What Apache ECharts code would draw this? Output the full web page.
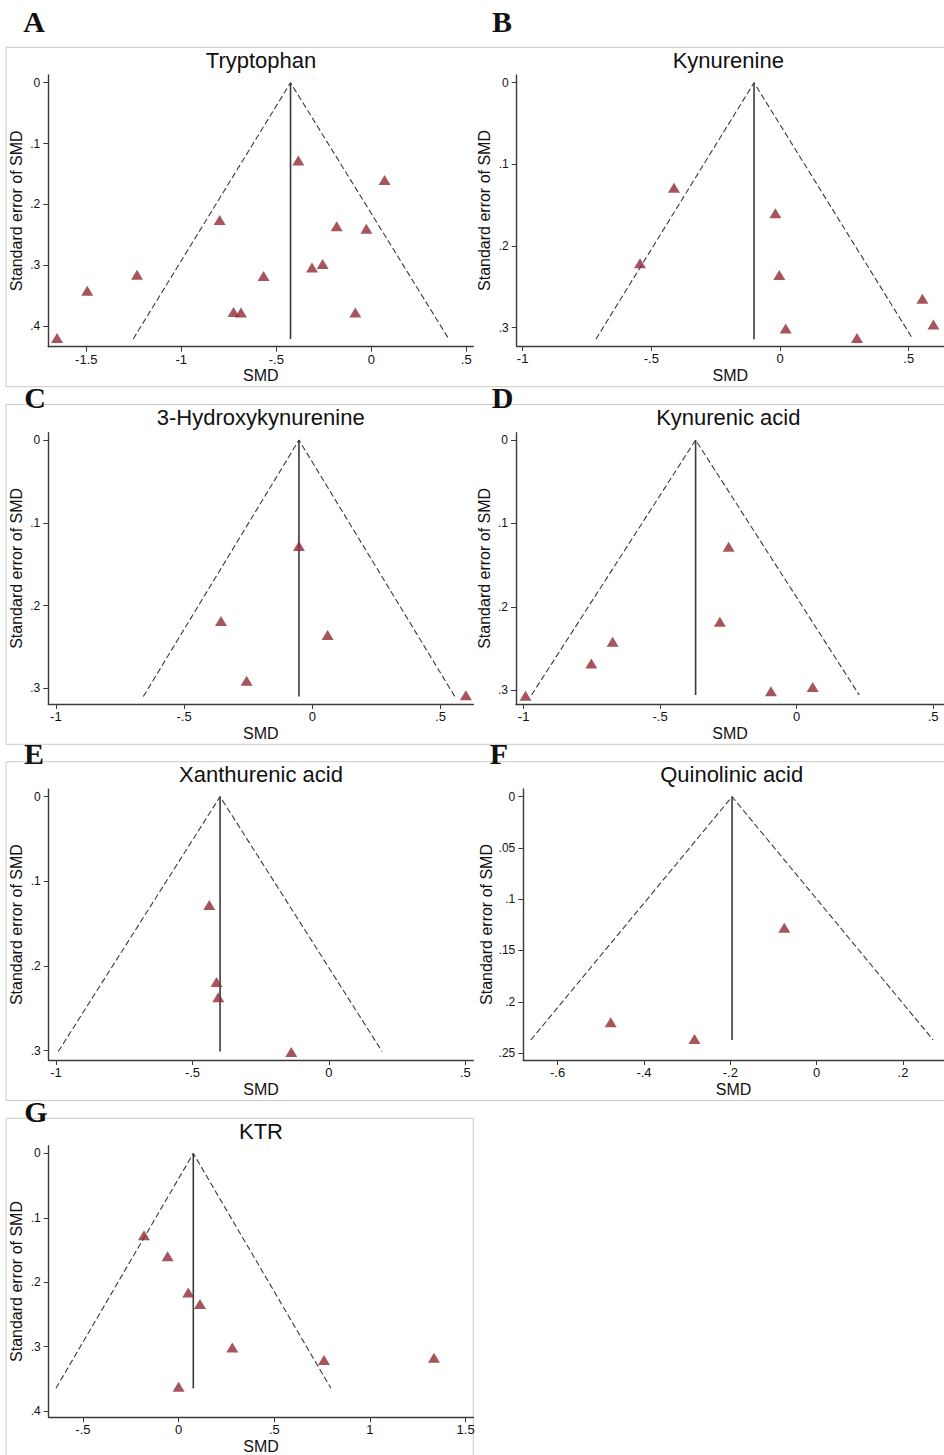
<!DOCTYPE html>
<html>
<head>
<meta charset="utf-8">
<script src="https://cdn.jsdelivr.net/npm/echarts@6/dist/echarts.min.js"></script>
<style>
html,body{margin:0;padding:0;background:#fff;}
#chart{width:944px;height:1455px;}
</style>
</head>
<body>
<div id="chart"></div>
<script>
// ---------- DATA ----------
const panelTitles = ["Tryptophan", "Kynurenine", "3-Hydroxykynurenine", "Kynurenic acid", "Xanthurenic acid", "Quinolinic acid", "KTR"];
const panelLetters = ["A", "B", "C", "D", "E", "F", "G"];

const tryptophanSMD = [-0.384, 0.070, -0.798, -0.182, -0.026, -1.233, -0.256, -0.312, -0.567, -1.495, -0.725, -0.686, -0.084, -1.654];
const tryptophanSE  = [0.128, 0.160, 0.226, 0.236, 0.240, 0.316, 0.298, 0.304, 0.318, 0.342, 0.377, 0.378, 0.378, 0.420];

const kynurenineSMD = [-0.412, -0.018, -0.544, -0.003, 0.553, 0.596, 0.022, 0.299];
const kynurenineSE  = [0.1286, 0.160, 0.221, 0.2355, 0.2645, 0.296, 0.301, 0.3127];

const hydroxykynSMD = [-0.052, -0.356, 0.060, -0.256, 0.599];
const hydroxykynSE  = [0.128, 0.2187, 0.2356, 0.291, 0.3085];

const kynurenicSMD = [-0.249, -0.281, -0.674, -0.752, 0.059, -0.094, -0.993];
const kynurenicSE  = [0.128, 0.2177, 0.2417, 0.268, 0.296, 0.301, 0.3064];

const xanthurenicSMD = [-0.4385, -0.412, -0.4055, -0.138];
const xanthurenicSE  = [0.128, 0.219, 0.237, 0.3016];

const quinolinicSMD = [-0.075, -0.477, -0.283];
const quinolinicSE  = [0.1278, 0.220, 0.2364];

const ktrSMD = [-0.181, -0.0575, 0.0505, 0.1115, 0.2805, 0.7596, 1.3345, 0.0];
const ktrSE  = [0.127, 0.1596, 0.216, 0.234, 0.3016, 0.321, 0.3176, 0.3627];

// funnel: pooled estimate, base SE, lower and upper pseudo-95% limits at the base
const pooledSMD  = [-0.425, -0.101, -0.052, -0.370, -0.399, -0.196, 0.0767];
const funnelSE   = [0.4215, 0.314, 0.310, 0.3056, 0.301, 0.2373, 0.365];
const funnelLow  = [-1.253, -0.715, -0.659, -0.971, -0.992, -0.662, -0.641];
const funnelHigh = [0.408, 0.516, 0.556, 0.2296, 0.195, 0.270, 0.796];

// tick labels
const xTicksA = [-1.5, -1, -0.5, 0, 0.5];
const xTicksB = [-1, -0.5, 0, 0.5];
const xTicksC = [-1, -0.5, 0, 0.5];
const xTicksD = [-1, -0.5, 0, 0.5];
const xTicksE = [-1, -0.5, 0, 0.5];
const xTicksF = [-0.6, -0.4, -0.2, 0, 0.2];
const xTicksG = [-0.5, 0, 0.5, 1, 1.5];
const yTicksA = [0, 0.1, 0.2, 0.3, 0.4];
const yTicksB = [0, 0.1, 0.2, 0.3];
const yTicksC = [0, 0.1, 0.2, 0.3];
const yTicksD = [0, 0.1, 0.2, 0.3];
const yTicksE = [0, 0.1, 0.2, 0.3];
const yTicksF = [0, 0.05, 0.1, 0.15, 0.2, 0.25];
const yTicksG = [0, 0.1, 0.2, 0.3, 0.4];

const xAxisName = "SMD";
const yAxisName = "Standard error of SMD";

// ---------- LAYOUT ----------
const panelSMD = [tryptophanSMD, kynurenineSMD, hydroxykynSMD, kynurenicSMD, xanthurenicSMD, quinolinicSMD, ktrSMD];
const panelSE  = [tryptophanSE, kynurenineSE, hydroxykynSE, kynurenicSE, xanthurenicSE, quinolinicSE, ktrSE];
const panelXTicks = [xTicksA, xTicksB, xTicksC, xTicksD, xTicksE, xTicksF, xTicksG];
const panelYTicks = [yTicksA, yTicksB, yTicksC, yTicksD, yTicksE, yTicksF, yTicksG];

const layout = [
  {l:48.3, t:75,    r:473.3, b:346.7,  xMin:-1.7,    xMax:0.537, yMin:-0.0127, yMax:0.4342, title:[261,60.7],   letter:[34,21]},
  {l:516.7,t:75,    r:944,   b:346,    xMin:-1.023,  xMax:0.637, yMin:-0.0094, yMax:0.3224, title:[728.3,60.7], letter:[502,21]},
  {l:48.3, t:432.7, r:473.3, b:704,    xMin:-1.0295, xMax:0.628, yMin:-0.0089, yMax:0.319,  title:[260.7,417.7],letter:[35,397]},
  {l:516,  t:432.7, r:944,   b:704,    xMin:-1.028,  xMax:0.540, yMin:-0.0088, yMax:0.3164, title:[728.3,417.7],letter:[502.7,397]},
  {l:48.7, t:789.3, r:473.3, b:1060,   xMin:-1.027,  xMax:0.529, yMin:-0.0087, yMax:0.311,  title:[261,774],    letter:[34,753]},
  {l:523.3,t:789,   r:944,   b:1060,   xMin:-0.6795, xMax:0.295, yMin:-0.0075, yMax:0.2568, title:[731.7,774],  letter:[499,753]},
  {l:48.7, t:1145.7,r:473.3, b:1417.3, xMin:-0.679,  xMax:1.540, yMin:-0.012,  yMax:0.410,  title:[261,1131],   letter:[36,1111]}
];

const AXIS_COLOR = '#3a3a3a';
const MARKER_COLOR = '#8e2a32';
const FRAME_COLOR = '#c9c9c9';
const SANS = '"Liberation Sans", Arial, Helvetica, sans-serif';

function fmt(v) {
  let s = String(+v.toFixed(4));
  return s.replace(/^(-?)0\./, '$1.');
}

const grids = [], xAxes = [], yAxes = [], series = [], graphics = [];

layout.forEach((L, i) => {
  grids.push({left: L.l, top: L.t, width: L.r - L.l, height: L.b - L.t, containLabel: false, outerBoundsMode: 'none'});
  xAxes.push({
    gridIndex: i, type: 'value', min: L.xMin, max: L.xMax,
    name: xAxisName, nameLocation: 'middle', nameGap: 21,
    nameTextStyle: {fontFamily: SANS, fontSize: 16, color: '#111'},
    axisLine: {show: true, onZero: false, lineStyle: {color: AXIS_COLOR, width: 1.4}},
    axisTick: {show: true, length: 5, inside: false, customValues: panelXTicks[i], lineStyle: {color: AXIS_COLOR, width: 1}},
    axisLabel: {show: true, customValues: panelXTicks[i], formatter: fmt, margin: 6, fontFamily: SANS, fontSize: 13, color: '#111'},
    splitLine: {show: false}
  });
  yAxes.push({
    gridIndex: i, type: 'value', min: L.yMin, max: L.yMax, inverse: true,
    name: yAxisName, nameLocation: 'middle', nameGap: 24,
    nameTextStyle: {fontFamily: SANS, fontSize: 16, color: '#111'},
    axisLine: {show: true, onZero: false, lineStyle: {color: AXIS_COLOR, width: 1.4}},
    axisTick: {show: true, length: 5, inside: false, customValues: panelYTicks[i], lineStyle: {color: AXIS_COLOR, width: 1}},
    axisLabel: {show: true, customValues: panelYTicks[i], formatter: fmt, margin: 8, fontFamily: SANS, fontSize: 12, color: '#111'},
    splitLine: {show: false}
  });
  // funnel dashed limits
  series.push({
    type: 'line', xAxisIndex: i, yAxisIndex: i, symbol: 'none', silent: true, animation: false, z: 2,
    lineStyle: {color: '#3a3a3a', width: 1.1, type: [6, 3]},
    data: [[funnelLow[i], funnelSE[i]], [pooledSMD[i], 0], [funnelHigh[i], funnelSE[i]]]
  });
  // pooled estimate vertical line
  series.push({
    type: 'line', xAxisIndex: i, yAxisIndex: i, symbol: 'none', silent: true, animation: false, z: 2,
    lineStyle: {color: '#3a3a3a', width: 1.6},
    data: [[pooledSMD[i], 0], [pooledSMD[i], funnelSE[i]]]
  });
  // studies
  series.push({
    type: 'scatter', xAxisIndex: i, yAxisIndex: i, symbol: 'triangle', symbolSize: [12, 10],
    clip: false, animation: false, z: 3,
    itemStyle: {color: MARKER_COLOR},
    data: panelSMD[i].map((x, k) => [x, panelSE[i][k]])
  });
  // title
  graphics.push({type: 'text', x: L.title[0], y: L.title[1], silent: true,
    style: {text: panelTitles[i], fontFamily: SANS, fontSize: 22, fill: '#111', align: 'center', verticalAlign: 'middle'}});
  // panel letter
  graphics.push({type: 'text', x: L.letter[0], y: L.letter[1], silent: true, z: 10,
    style: {text: panelLetters[i], fontFamily: '"Liberation Serif", "Times New Roman", serif', fontWeight: 'bold', fontSize: 30, fill: '#111', align: 'center', verticalAlign: 'middle'}});
});

// panel frames (thin light-grey borders)
const hLines = [[6, 944, 47.3], [6, 944, 386.7], [6, 944, 404.5], [6, 944, 744.3], [6, 944, 761.7], [6, 944, 1100.5], [6, 473.3, 1118.3]];
const vLines = [[6, 47.3, 386.7], [6, 404.5, 744.3], [6, 761.7, 1100.5], [6, 1118.3, 1455], [473.3, 1118.3, 1455]];
hLines.forEach(h => graphics.push({type: 'line', silent: true, z: 0,
  shape: {x1: h[0], y1: h[2], x2: h[1], y2: h[2]}, style: {stroke: FRAME_COLOR, lineWidth: 1}}));
vLines.forEach(v => graphics.push({type: 'line', silent: true, z: 0,
  shape: {x1: v[0], y1: v[1], x2: v[0], y2: v[2]}, style: {stroke: FRAME_COLOR, lineWidth: 1}}));

const chart = echarts.init(document.getElementById('chart'), null, {renderer: 'svg', width: 944, height: 1455});
chart.setOption({
  backgroundColor: '#ffffff',
  animation: false,
  grid: grids,
  xAxis: xAxes,
  yAxis: yAxes,
  series: series,
  graphic: graphics
});
</script>
</body>
</html>
